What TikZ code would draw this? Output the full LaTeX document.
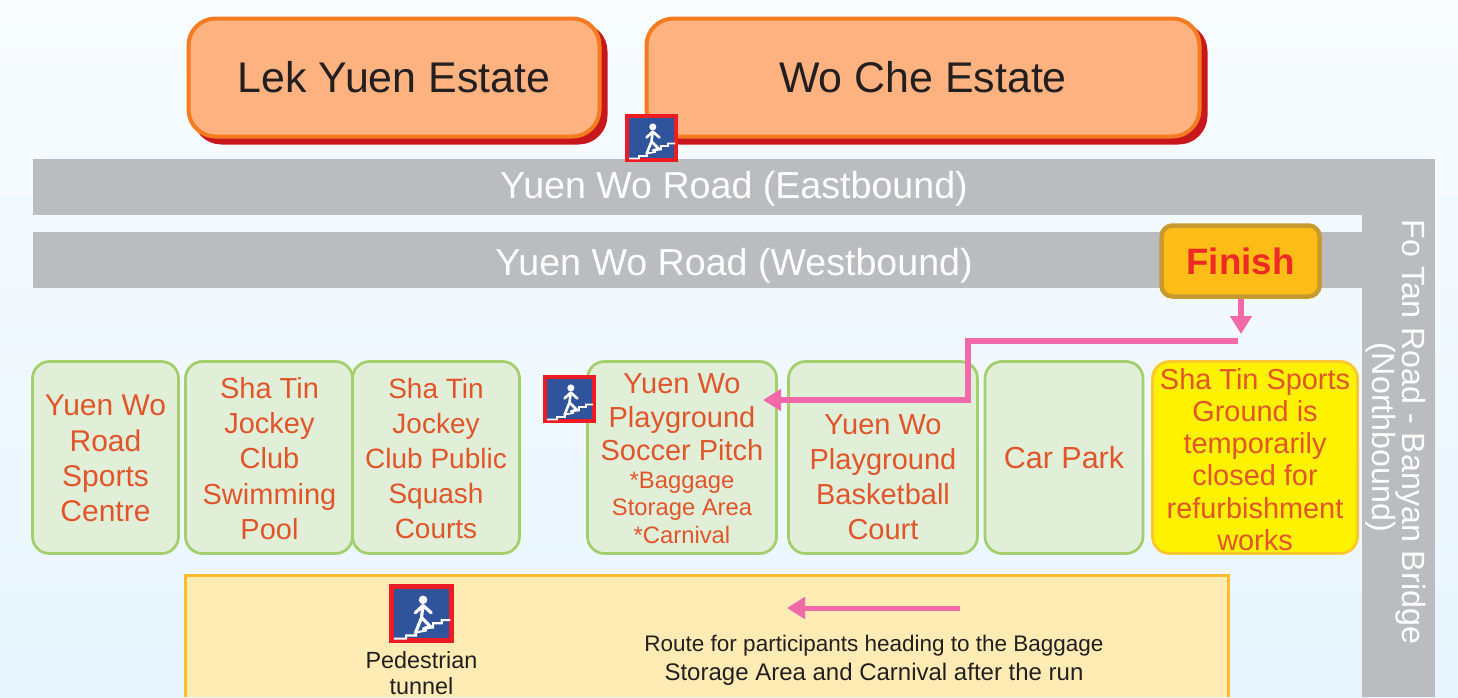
\documentclass[tikz,border=0pt]{standalone}
\usepackage{fontspec}
\setmainfont{Liberation Sans}
\usetikzlibrary{arrows.meta}
\definecolor{bgtop}{HTML}{F8FCFF}
\definecolor{bgbot}{HTML}{E8F5FE}
\definecolor{roadgrey}{HTML}{BBBCBF}
\definecolor{estfill}{HTML}{FDB27F}
\definecolor{estline}{HTML}{F47B20}
\definecolor{shadowred}{HTML}{C8161D}
\definecolor{inkblack}{HTML}{231F20}
\definecolor{finfill}{HTML}{FDBD16}
\definecolor{finline}{HTML}{C79A2F}
\definecolor{finred}{HTML}{EE2A24}
\definecolor{grfill}{HTML}{E1EFD8}
\definecolor{grline}{HTML}{A2CF6B}
\definecolor{orangetxt}{HTML}{E0562A}
\definecolor{yelfill}{HTML}{FFF200}
\definecolor{yelline}{HTML}{FDC82F}
\definecolor{legfill}{HTML}{FEECB4}
\definecolor{legline}{HTML}{FDBD2A}
\definecolor{pinkline}{HTML}{F269AA}
\definecolor{iconblue}{HTML}{30549B}
\definecolor{iconred}{HTML}{ED1C24}
\newcommand{\fsz}[2]{\fontsize{#1pt}{#2pt}\selectfont}
\newcommand{\stairicon}[3]{%
 \begin{scope}[shift={(#1,#2)},scale=#3]
  \path[fill=iconblue,draw=iconred,line width=#3*4pt] (2,2) rectangle (51,46);
  \draw[white,line width=#3*1.7pt,line join=miter]
    (4,44.5) -- (14,44.5) -- (14,42) -- (22,42) -- (22,39.5) -- (30,38) -- (30,35.5) -- (36,35.5) -- (36,32) -- (43,32) -- (43,29.5) -- (50,29.5);
  \fill[white] (27.8,12.9) circle (3.5);
  \draw[white,line width=#3*2.6pt,line join=round,line cap=round]
    (21.5,23.5) -- (27.7,17.5) -- (34.5,23.5)
    (27.7,17.5) -- (26.5,27.5) -- (21.5,40)
    (26.5,27.5) -- (34,35) -- (28,36.5);
 \end{scope}}
\tikzset{
 x=1pt,y=-1pt,
 road/.style={fill=roadgrey,draw=none},
 roadtxt/.style={text=white,anchor=base,font=\fsz{37.6}{40}},
 sidetxt/.style={text=white,rotate=-90,font=\fsz{32.2}{34}},
 estate/.style={rectangle,rounded corners=27pt,fill=estfill,draw=estline,line width=4pt,text=inkblack,
   minimum height=118pt,font=\fsz{42.9}{46},inner sep=0pt,
   preaction={fill=shadowred,draw=shadowred,transform canvas={xshift=6pt,yshift=-6pt}}},
 greenbox/.style={rectangle,rounded corners=17pt,fill=grfill,draw=grline,line width=2.7pt,
   minimum height=192pt,inner sep=0pt},
 yellowbox/.style={greenbox,fill=yelfill,draw=yelline},
 boxtxt/.style={text=orangetxt,align=center,inner sep=0pt,font=\fsz{29}{35.2}},
 finishbox/.style={rectangle,rounded corners=11pt,fill=finfill,draw=finline,line width=4.5pt,text=finred,
   minimum width=158pt,minimum height=71pt,inner sep=0pt,font=\fsz{36.7}{40}\bfseries},
 pink/.style={draw=pinkline,line width=6pt,-{Triangle[width=21pt,length=18pt]}},
 legtxt/.style={text=inkblack,align=center,inner sep=0pt},
}
\begin{document}
\begin{tikzpicture}
\useasboundingbox (0,0) rectangle (1458,697);
\shade[top color=bgtop,bottom color=bgbot] (0,0) rectangle (1458,697);
% roads
\path[road] (1362,159) rectangle (1435,697);
\path[road] (33,159) rectangle (1362,215);
\path[road] (33,232) rectangle (1362,288);
\node[roadtxt] (east) at (734,198) {Yuen Wo Road (Eastbound)};
\node[roadtxt] (west) at (734,275) {Yuen Wo Road (Westbound)};
\node[sidetxt] (fotan) at (1411,432) {Fo Tan Road - Banyan Bridge};
\node[sidetxt] (north) at (1381,437) {(Northbound)};
% estates
\node[estate,minimum width=411pt] (lek) at (394,77.5) {Lek Yuen Estate};
\node[estate,minimum width=553pt] (wo) at (923,77.5) {Wo Che Estate};
% venues
\node[greenbox,minimum width=146pt] (b1) at (105.5,457.5) {};
\node[boxtxt,font=\fsz{30}{35.2}] (b1a) at (105.5,458.5) {Yuen Wo\\Road\\Sports\\Centre};
\node[greenbox,minimum width=167pt] (b2) at (269,457.5) {};
\node[boxtxt] (b2a) at (269.5,458.5) {Sha Tin\\Jockey\\Club\\Swimming\\Pool};
\node[greenbox,minimum width=167pt] (b3) at (436,457.5) {};
\node[boxtxt,font=\fsz{28}{35.2}] (b3a) at (436,458.5) {Sha Tin\\Jockey\\Club Public\\Squash\\Courts};
\node[greenbox,minimum width=189pt] (b4) at (682,457.5) {};
\node[boxtxt,font=\fsz{29}{33.5}] (b4a) at (682,417.5) {Yuen Wo\\Playground\\Soccer Pitch};
\node[boxtxt,font=\fsz{23.8}{27.5}] (b4b) at (682,507.5) {*Baggage\\Storage Area\\*Carnival};
\node[greenbox,minimum width=189pt] (b5) at (883,457.5) {};
\node[boxtxt] (b5a) at (883,477) {Yuen Wo\\Playground\\Basketball\\Court};
\node[greenbox,minimum width=158pt] (b6) at (1064,457.5) {};
\node[boxtxt,font=\fsz{30.5}{35.2}] (b6a) at (1064,458) {Car Park};
\node[yellowbox,minimum width=205pt] (b7) at (1255,457.5) {};
\node[boxtxt,font=\fsz{28.9}{32.2}] (b7a) at (1255,459.5) {Sha Tin Sports\\Ground is\\temporarily\\closed for\\refurbishment\\works};
% finish and route
\node[finishbox] (finish) at (1240.5,261) {Finish};
\coordinate (finishtip) at (1241,334);
\coordinate (routestart) at (1238,341);
\coordinate (routemid) at (968,370);
\coordinate (soccertip) at (763,400);
\draw[pink] (finish.south -| finishtip) -- (finishtip);
\draw[pink] (routestart) -| (routemid) |- (soccertip);
% legend
\path[fill=legfill,draw=legline,line width=3pt] (185.5,697) -- (185.5,575.5) -- (1228.5,575.5) -- (1228.5,697);
\coordinate (legstart) at (960,608);
\coordinate (legend) at (787,608);
\draw[pink,line width=5pt] (legstart) -- (legend);
\node[legtxt,font=\fsz{23.4}{26}] (ped) at (421.5,673) {Pedestrian\\tunnel};
\node[legtxt,anchor=base] (routetxt1) at (874,651) {\fsz{22.5}{29}Route for participants heading to the Baggage};
\node[legtxt,anchor=base] (routetxt2) at (874,680) {\fsz{24}{29}Storage Area and Carnival after the run};
% icons
\stairicon{625}{114}{1}
\stairicon{543}{375}{1}
\stairicon{389}{584}{1.226}
\end{tikzpicture}
\end{document}
